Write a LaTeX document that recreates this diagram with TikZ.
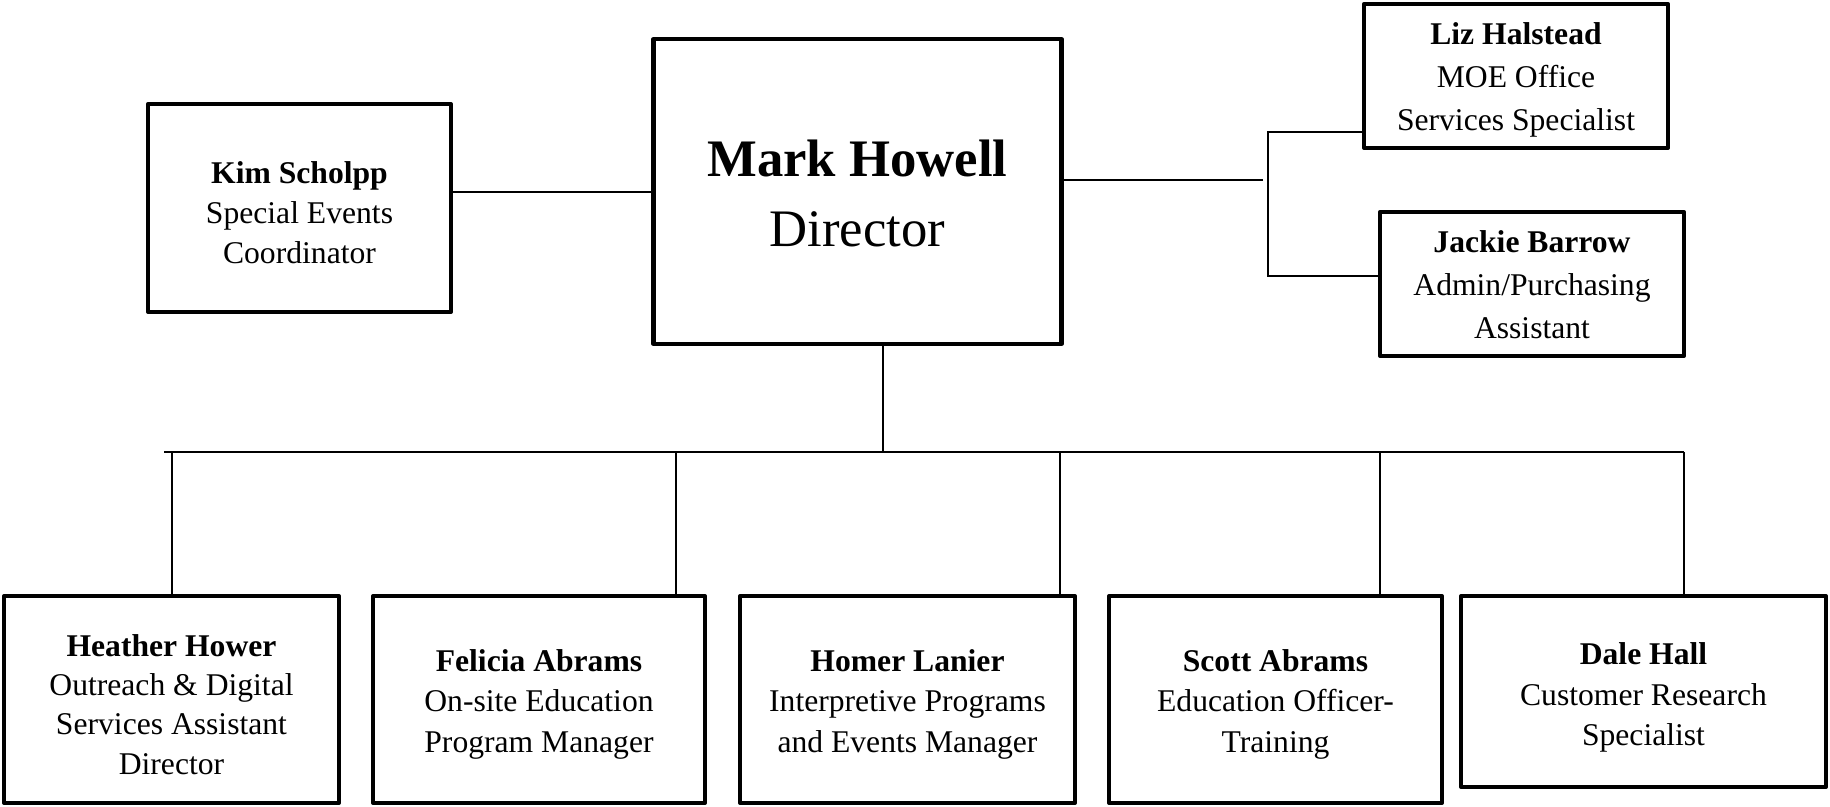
\documentclass[tikz,border=0pt]{standalone}
\usepackage{fontspec}
\setmainfont{Liberation Serif}
\begin{document}
\begin{tikzpicture}[x=0.02cm,y=-0.02cm,
  box/.style={draw, line width=2.4pt, line join=round, inner sep=0pt},
  txt/.style={align=center, inner sep=0pt, yshift=-2.7pt, font=\fontsize{18}{23}\selectfont},
  wide/.style={font=\fontsize{18}{24.5}\selectfont},
  conn/.style={line width=1.15pt},
  bus/.style={line width=1.7pt}]
\useasboundingbox (0,0) rectangle (1830,807);
% top row
\node[box, minimum width=6.06cm, minimum height=4.16cm,
  label={[txt]center:{\textbf{Kim Scholpp}\\Special Events\\Coordinator}}] (kim) at (299.5,208) {};
\node[box, minimum width=8.16cm, minimum height=6.1cm,
  label={[txt, yshift=1.7pt, font=\fontsize{30}{40}\selectfont]center:{\textbf{Mark Howell}\\Director}}] (mark) at (857.5,191.5) {};
\node[box, minimum width=6.08cm, minimum height=2.88cm,
  label={[txt, wide, yshift=0.7pt]center:{\textbf{Liz Halstead}\\MOE Office\\Services Specialist}}] (liz) at (1516,76) {};
\node[box, minimum width=6.08cm, minimum height=2.88cm,
  label={[txt, wide, yshift=2.3pt]center:{\textbf{Jackie Barrow}\\Admin/Purchasing\\Assistant}}] (jackie) at (1532,284) {};
% bottom row
\node[box, minimum width=6.7cm, minimum height=4.14cm,
  label={[txt, font=\fontsize{18}{22.4}\selectfont]center:{\textbf{Heather Hower}\\Outreach \& Digital\\Services Assistant\\Director}}] (heather) at (171.5,699.5) {};
\node[box, minimum width=6.64cm, minimum height=4.14cm,
  label={[txt]center:{\textbf{Felicia Abrams}\\On-site Education\\Program Manager}}] (felicia) at (539,699.5) {};
\node[box, minimum width=6.7cm, minimum height=4.14cm,
  label={[txt]center:{\textbf{Homer Lanier}\\Interpretive Programs\\and Events Manager}}] (homer) at (907.5,699.5) {};
\node[box, minimum width=6.66cm, minimum height=4.14cm,
  label={[txt]center:{\textbf{Scott Abrams}\\Education Officer-\\Training}}] (scott) at (1275.5,699.5) {};
\node[box, minimum width=7.3cm, minimum height=3.82cm,
  label={[txt, yshift=-0.8pt]center:{\textbf{Dale Hall}\\Customer Research\\Specialist}}] (dale) at (1643.5,691.5) {};
% coordinates
\coordinate (km) at (0,192);
\coordinate (mr) at (1263,180);
\coordinate (bt) at (1268,132);
\coordinate (bb) at (1268,276);
\coordinate (mb) at (883,452);
\coordinate (busL) at (164,452);
\coordinate (busR) at (1684,452);
\coordinate (t1) at (172,452);
\coordinate (t2) at (676,452);
\coordinate (t3) at (1060,452);
\coordinate (t4) at (1380,452);
% connectors
\draw[conn] (kim.east |- km) -- (mark.west |- km);
\draw[conn] (mark.east |- mr) -- (mr);
\draw[conn] (liz.west |- bt) -- (bt) -- (bb) -- (jackie.west |- bb);
\draw[conn] (mark.south -| mb) -- (mb);
\draw[bus] (busL) -- (busR);
\draw[conn] (t1) -- (t1 |- heather.north);
\draw[conn] (t2) -- (t2 |- felicia.north);
\draw[conn] (t3) -- (t3 |- homer.north);
\draw[conn] (t4) -- (t4 |- scott.north);
\draw[conn] (busR) -- (busR |- dale.north);
\end{tikzpicture}
\end{document}
